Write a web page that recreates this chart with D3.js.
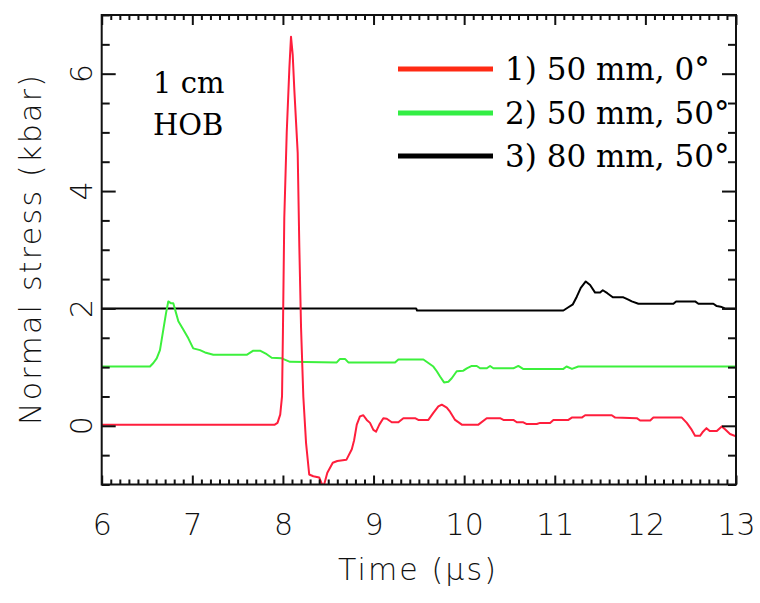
<!DOCTYPE html>
<html>
<head>
<meta charset="utf-8">
<script src="https://cdn.jsdelivr.net/npm/d3@7"></script>
<style>
  html, body { margin: 0; padding: 0; background: #fff; }
  svg { display: block; }
  .tick-label { font-family: "DejaVu Sans", sans-serif; font-weight: 200; fill: #111; }
  .serif { font-family: "DejaVu Serif", serif; fill: #000; }
</style>
</head>
<body>
<script>
// Normal stress traces, time in µs, stress in kbar
const redTime = [6.0, 7.91, 7.94, 7.97, 7.99, 8.0, 8.015, 8.042, 8.071, 8.089, 8.108, 8.126, 8.163, 8.181, 8.2, 8.225, 8.255, 8.29, 8.335, 8.40, 8.446, 8.49, 8.55, 8.60, 8.70, 8.76, 8.785, 8.815, 8.85, 8.887, 8.925, 8.961, 8.998, 9.028, 9.064, 9.108, 9.146, 9.201, 9.274, 9.329, 9.458, 9.494, 9.605, 9.66, 9.715, 9.753, 9.808, 9.844, 9.9, 9.974, 10.157, 10.249, 10.396, 10.433, 10.543, 10.581, 10.653, 10.691, 10.801, 10.838, 10.948, 10.985, 11.15, 11.188, 11.298, 11.335, 11.629, 11.667, 11.905, 11.942, 12.053, 12.088, 12.402, 12.457, 12.512, 12.548, 12.603, 12.636, 12.674, 12.71, 12.788, 12.843, 12.879, 12.934, 13.0];
const redStress = [0.02, 0.02, 0.05, 0.19, 0.5, 1.6, 3.54, 5.0, 6.09, 6.63, 6.32, 5.72, 4.65, 3.05, 1.67, 0.5, -0.29, -0.83, -0.86, -0.88, -1.05, -0.80, -0.63, -0.60, -0.58, -0.40, -0.25, 0.02, 0.16, 0.18, 0.10, 0.05, -0.07, -0.10, 0.02, 0.13, 0.12, 0.06, 0.06, 0.13, 0.13, 0.10, 0.10, 0.22, 0.33, 0.36, 0.31, 0.24, 0.10, 0.02, 0.02, 0.13, 0.13, 0.10, 0.10, 0.06, 0.06, 0.03, 0.03, 0.05, 0.05, 0.10, 0.10, 0.14, 0.14, 0.18, 0.18, 0.14, 0.13, 0.09, 0.09, 0.14, 0.14, 0.05, -0.07, -0.17, -0.17, -0.10, -0.04, -0.09, -0.09, -0.01, -0.06, -0.14, -0.18];

const greenTime = [6.0, 6.533, 6.57, 6.607, 6.643, 6.68, 6.71, 6.735, 6.762, 6.79, 6.81, 6.846, 6.9, 6.956, 7.01, 7.085, 7.14, 7.232, 7.6, 7.673, 7.747, 7.821, 7.876, 7.987, 8.078, 8.594, 8.63, 8.685, 8.722, 9.237, 9.274, 9.55, 9.605, 9.66, 9.698, 9.734, 9.778, 9.826, 9.863, 9.918, 9.991, 10.029, 10.084, 10.139, 10.176, 10.25, 10.286, 10.322, 10.543, 10.598, 10.65, 11.095, 11.13, 11.19, 11.26, 13.0];
const greenStress = [1.01, 1.01, 1.07, 1.15, 1.29, 1.64, 1.92, 2.12, 2.09, 2.09, 1.98, 1.78, 1.64, 1.49, 1.32, 1.29, 1.25, 1.21, 1.21, 1.28, 1.28, 1.22, 1.16, 1.15, 1.09, 1.08, 1.14, 1.14, 1.08, 1.08, 1.13, 1.13, 1.07, 1.01, 0.93, 0.84, 0.74, 0.75, 0.81, 0.93, 0.94, 0.98, 1.02, 1.02, 0.98, 0.98, 1.02, 0.98, 0.98, 1.02, 0.97, 0.97, 1.01, 0.97, 1.01, 1.01];

const blackTime = [6.0, 9.47, 9.48, 11.095, 11.15, 11.2, 11.243, 11.287, 11.342, 11.39, 11.445, 11.5, 11.53, 11.58, 11.64, 11.757, 11.812, 11.85, 11.923, 12.309, 12.339, 12.549, 12.585, 12.75, 12.788, 12.83, 12.879, 13.0];
const blackStress = [2.0, 2.0, 1.965, 1.965, 2.02, 2.07, 2.2, 2.35, 2.46, 2.40, 2.27, 2.27, 2.31, 2.26, 2.19, 2.19, 2.15, 2.12, 2.08, 2.08, 2.12, 2.12, 2.08, 2.08, 2.04, 2.03, 2.0, 2.0];

const seriesNames = ["1) 50 mm, 0°", "2) 50 mm, 50°", "3) 80 mm, 50°"];
const lineColors = ["#ff1e3c", "#3cf03c", "#000000"];
const legendColors = ["#ff2a14", "#33ee44", "#000000"];

const xMajorTicks = [6, 7, 8, 9, 10, 11, 12, 13];
const yMajorTicks = [0, 2, 4, 6];
const annotationLines = ["1 cm", "HOB"];
const xTitle = "Time (μs)";
const yTitle = "Normal stress (kbar)";

const W = 760, H = 603;
const plot = { left: 101.7, right: 736, top: 15, bottom: 484.5 };

const svg = d3.select("body").append("svg").attr("width", W).attr("height", H);

const x = d3.scaleLinear().domain([6, 13]).range([plot.left, plot.right]);
const y = d3.scaleLinear().domain([-1, 7]).range([plot.bottom, plot.top]);

const xMinor = d3.range(60, 131).map(d => d / 10).filter(d => !xMajorTicks.includes(d));
const yMinor = d3.range(-2, 15).map(d => d / 2).filter(d => !yMajorTicks.includes(d));

// Clip for traces
svg.append("defs").append("clipPath").attr("id", "plotClip")
  .append("rect")
  .attr("x", plot.left).attr("y", plot.top)
  .attr("width", plot.right - plot.left).attr("height", plot.bottom - plot.top);

// Traces
const series = [
  { t: redTime, v: redStress },
  { t: greenTime, v: greenStress },
  { t: blackTime, v: blackStress }
];
const line = d3.line().x(d => x(d[0])).y(d => y(d[1]));
const traceG = svg.append("g").attr("clip-path", "url(#plotClip)");
// draw black, then green, then red on top
[2, 1, 0].forEach(i => {
  const pts = series[i].t.map((t, k) => [t, series[i].v[k]]);
  traceG.append("path")
    .datum(pts)
    .attr("d", line)
    .attr("fill", "none")
    .attr("stroke", lineColors[i])
    .attr("stroke-width", 2)
    .attr("stroke-linejoin", "round");
});

// Axes with inward ticks
function styleAxis(g) {
  g.select(".domain").remove();
  g.selectAll(".tick line").attr("stroke", "#111").attr("stroke-width", 2);
}
// bottom major with labels
svg.append("g").attr("transform", `translate(0,${plot.bottom})`)
  .call(d3.axisBottom(x).tickValues(xMajorTicks).tickSize(-9).tickPadding(29).tickFormat(d3.format("d")))
  .call(styleAxis)
  .call(g => g.selectAll("text").attr("class", "tick-label").attr("font-size", 30).attr("dy", "0.35em").attr("y", 40));
svg.append("g").attr("transform", `translate(0,${plot.bottom})`)
  .call(d3.axisBottom(x).tickValues(xMinor).tickSize(-5).tickFormat(""))
  .call(styleAxis);
// top
svg.append("g").attr("transform", `translate(0,${plot.top})`)
  .call(d3.axisTop(x).tickValues(xMajorTicks).tickSize(-10).tickFormat(""))
  .call(styleAxis);
svg.append("g").attr("transform", `translate(0,${plot.top})`)
  .call(d3.axisTop(x).tickValues(xMinor).tickSize(-5).tickFormat(""))
  .call(styleAxis);
// left
svg.append("g").attr("transform", `translate(${plot.left},0)`)
  .call(d3.axisLeft(y).tickValues(yMajorTicks).tickSize(-14).tickFormat(""))
  .call(styleAxis);
svg.append("g").attr("transform", `translate(${plot.left},0)`)
  .call(d3.axisLeft(y).tickValues(yMinor).tickSize(-8).tickFormat(""))
  .call(styleAxis);
// right
svg.append("g").attr("transform", `translate(${plot.right},0)`)
  .call(d3.axisRight(y).tickValues(yMajorTicks).tickSize(-14).tickFormat(""))
  .call(styleAxis);
svg.append("g").attr("transform", `translate(${plot.right},0)`)
  .call(d3.axisRight(y).tickValues(yMinor).tickSize(-8).tickFormat(""))
  .call(styleAxis);

// rotated y tick labels
svg.append("g").selectAll("text")
  .data(yMajorTicks)
  .join("text")
  .attr("class", "tick-label")
  .attr("font-size", 30)
  .attr("text-anchor", "middle")
  .attr("dy", "0.35em")
  .attr("transform", d => `translate(81,${y(d)}) rotate(-90)`)
  .text(d => d3.format("d")(d));

// frame
svg.append("rect")
  .attr("x", plot.left).attr("y", plot.top)
  .attr("width", plot.right - plot.left).attr("height", plot.bottom - plot.top)
  .attr("fill", "none").attr("stroke", "#111").attr("stroke-width", 2);

// axis titles
svg.append("text")
  .attr("class", "tick-label")
  .attr("font-size", 30)
  .attr("text-anchor", "middle")
  .attr("x", 417)
  .attr("y", 580)
  .attr("textLength", 158)
  .attr("lengthAdjust", "spacing")
  .text(xTitle);
svg.append("text")
  .attr("class", "tick-label")
  .attr("font-size", 30)
  .attr("text-anchor", "middle")
  .attr("transform", `translate(41,250) rotate(-90)`)
  .attr("textLength", 350)
  .attr("lengthAdjust", "spacing")
  .text(yTitle);

// annotation
svg.append("g").selectAll("text")
  .data(annotationLines)
  .join("text")
  .attr("class", "serif")
  .attr("font-size", 29)
  .attr("x", 153)
  .attr("y", (d, i) => 93 + i * 42)
  .text(d => d);

// legend
const legend = svg.append("g");
const legendBase = [80, 124, 167];
seriesNames.forEach((name, i) => {
  legend.append("line")
    .attr("x1", 398).attr("x2", 493)
    .attr("y1", legendBase[i] - 11).attr("y2", legendBase[i] - 11)
    .attr("stroke", legendColors[i]).attr("stroke-width", 5);
  legend.append("text")
    .attr("class", "serif")
    .attr("font-size", 31)
    .attr("x", 505)
    .attr("y", legendBase[i])
    .text(name);
});
</script>
</body>
</html>
